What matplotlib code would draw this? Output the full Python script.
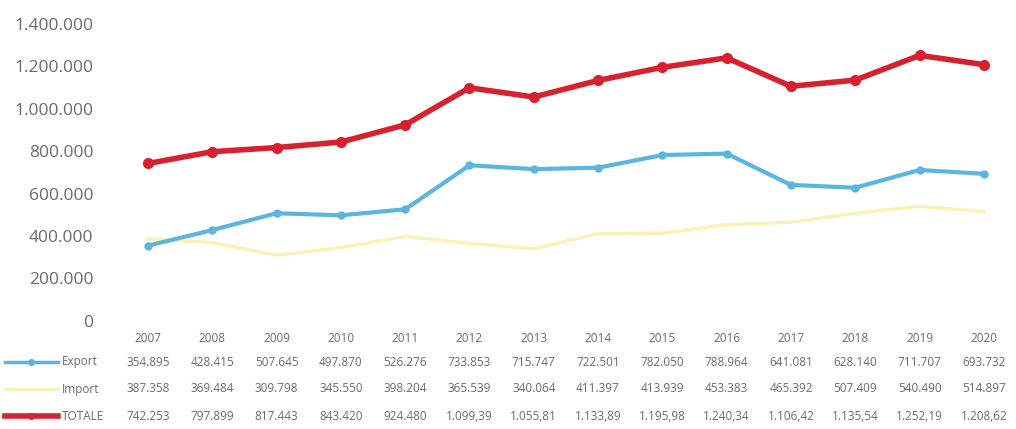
import matplotlib
matplotlib.use('Agg')
from matplotlib import pyplot as plt
import matplotlib.transforms as mtransforms

years = ['2007', '2008', '2009', '2010', '2011', '2012', '2013',
         '2014', '2015', '2016', '2017', '2018', '2019', '2020']
export = [354895, 428415, 507645, 497870, 526276, 733853, 715747,
          722501, 782050, 788964, 641081, 628140, 711707, 693732]
imports = [387358, 369484, 309798, 345550, 398204, 365539, 340064,
           411397, 413939, 453383, 465392, 507409, 540490, 514897]
totale = [742253, 797899, 817443, 843420, 924480, 1099390, 1055810,
          1133890, 1195980, 1240340, 1106420, 1135540, 1252190, 1208620]

export_lbl = ['354.895', '428.415', '507.645', '497.870', '526.276', '733.853', '715.747',
              '722.501', '782.050', '788.964', '641.081', '628.140', '711.707', '693.732']
import_lbl = ['387.358', '369.484', '309.798', '345.550', '398.204', '365.539', '340.064',
              '411.397', '413.939', '453.383', '465.392', '507.409', '540.490', '514.897']
totale_lbl = ['742.253', '797.899', '817.443', '843.420', '924.480', '1.099,39', '1.055,81',
              '1.133,89', '1.195,98', '1.240,34', '1.106,42', '1.135,54', '1.252,19', '1.208,62']

plt.rcParams['font.family'] = ['Open Sans', 'DejaVu Sans']
grey = '#6b6b6b'
c_exp = '#5ab6e0'
c_imp = '#fbf2b8'
c_tot = '#d8202e'

fig = plt.figure(figsize=(10.16, 4.29), dpi=100)
ax = fig.add_axes([0.114, 0.252, 0.886, 0.692])
x = list(range(len(years)))

ax.plot(x, imports, color=c_imp, linewidth=2.5, zorder=2)
ax.plot(x, export, color=c_exp, linewidth=3, marker='o', markersize=5, zorder=3)
ax.plot(x, totale, color=c_tot, linewidth=4, marker='o', markersize=7, zorder=4)

ax.set_xlim(-0.5, 13.5)
ax.set_ylim(0, 1400000)
ticks = list(range(0, 1400001, 200000))
ax.set_yticks(ticks)
ax.set_yticklabels(['{:,}'.format(t).replace(',', '.') for t in ticks])
ax.tick_params(axis='y', length=0, labelsize=12.5, labelcolor=grey, pad=16)
ax.set_xticks([])
for s in ax.spines.values():
    s.set_visible(False)

# data table below the plot
tr = mtransforms.blended_transform_factory(ax.transData, fig.transFigure)
rows = [(years, 1 - 338 / 429, None, None),
        (export_lbl, 1 - 362 / 429, 'Export', c_exp),
        (import_lbl, 1 - 389 / 429, 'Import', c_imp),
        (totale_lbl, 1 - 416 / 429, 'TOTALE', c_tot)]
for labels, yy, name, col in rows:
    for i, lab in enumerate(labels):
        ax.text(i, yy, lab, transform=tr, ha='center', va='center',
                fontsize=8.5, color=grey, clip_on=False)
    if name:
        fig.text(62 / 1016, yy, name, ha='left', va='center', fontsize=8.5, color=grey)
        lw = 4 if name == 'TOTALE' else 2.5
        fig.add_artist(plt.Line2D([5 / 1016, 58 / 1016], [yy, yy], color=col,
                                  linewidth=lw, transform=fig.transFigure))
        if name != 'Import':
            fig.add_artist(plt.Line2D([31 / 1016], [yy], color=col, marker='o',
                                      markersize=4, transform=fig.transFigure))

fig.savefig('out.png', dpi=100)
